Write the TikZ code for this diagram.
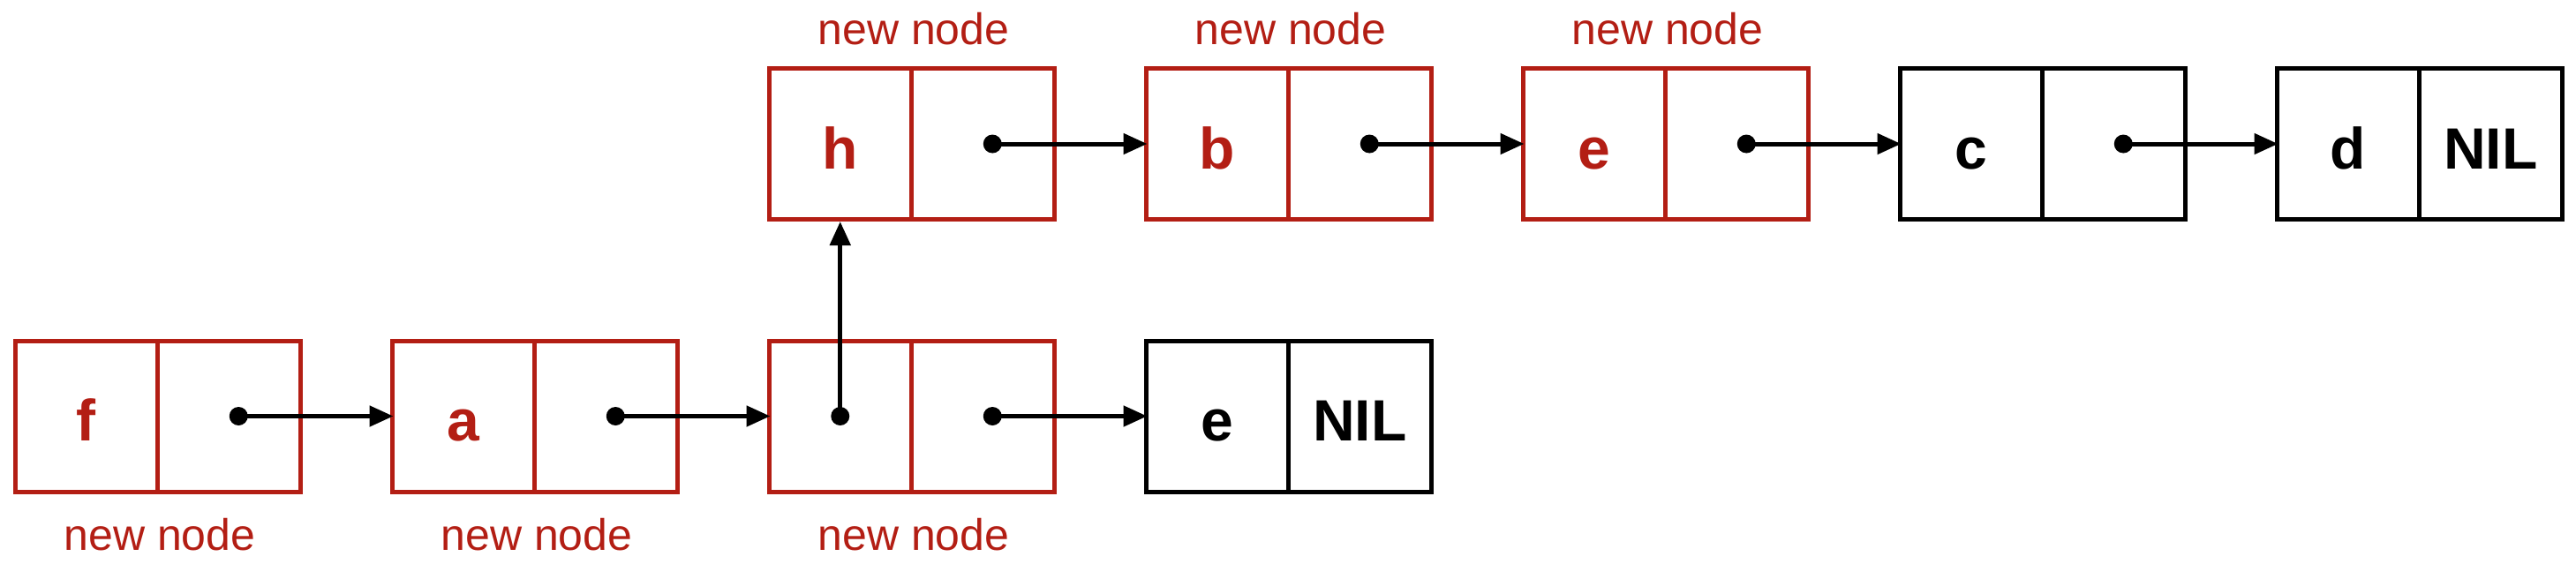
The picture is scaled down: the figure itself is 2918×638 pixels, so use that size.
\documentclass[tikz,border=0pt]{standalone}
\usepackage{fontspec}
\setmainfont{Liberation Sans}
\usetikzlibrary{arrows.meta,calc}
\definecolor{nred}{RGB}{179,30,20}
\begin{document}
\begin{tikzpicture}[x=1pt,y=-1pt,
 cell/.style={draw, line width=5pt, minimum width=161.5pt, minimum height=171pt, inner sep=0pt, text height=56pt, text depth=0pt, font=\fontsize{66}{70}\selectfont\bfseries},
 newc/.style={cell, draw=nred, text=nred},
 oldc/.style={cell, draw=black, text=black},
 dot/.style={circle, fill=black, minimum size=21pt, inner sep=0pt},
 ptr/.style={line width=5pt, -{Triangle[length=27pt,width=23pt]}},
 hptr/.style={ptr, shorten >=-4pt},
 lbl/.style={text=nred, font=\fontsize{50}{54}\selectfont, anchor=base, inner sep=0pt}]
\useasboundingbox (0,0) rectangle (2918,638);
% lower row
\node[newc] (f)  at (97.75,471.5) {f};
\node[newc] (fp) at (259.25,471.5) {};
\node[newc] (a)  at (524.75,471.5) {a};
\node[newc] (ap) at (686.25,471.5) {};
\node[newc] (g)  at (951.75,471.5) {};
\node[newc] (gp) at (1113.25,471.5) {};
\node[oldc] (e1)  at (1378.75,471.5) {e};
\node[oldc] (e1p) at (1540.25,471.5) {NIL};
% upper row
\node[newc] (h)  at (951.75,163) {h};
\node[newc] (hp) at (1113.25,163) {};
\node[newc] (b)  at (1378.75,163) {b};
\node[newc] (bp) at (1540.25,163) {};
\node[newc] (e)  at (1805.75,163) {e};
\node[newc] (ep) at (1967.25,163) {};
\node[oldc] (c)  at (2232.75,163) {c};
\node[oldc] (cp) at (2394.25,163) {};
\node[oldc] (d)  at (2659.75,163) {d};
\node[oldc] (dp) at (2821.25,163) {NIL};
% labels
\node[lbl] (lf) at ($(f.east)+(0,151.5)$) {new node};
\node[lbl] (la) at ($(a.east)+(0,151.5)$) {new node};
\node[lbl] (lg) at ($(g.east)+(0,151.5)$) {new node};
\node[lbl] (lh) at ($(h.east)+(0,-113)$) {new node};
\node[lbl] (lb) at ($(b.east)+(0,-113)$) {new node};
\node[lbl] (le) at ($(e.east)+(0,-113)$) {new node};
% dots
\node[dot] (fd) at ($(fp.center)+(11,0)$) {};
\node[dot] (ad) at ($(ap.center)+(11,0)$) {};
\node[dot] (gpd) at ($(gp.center)+(11,0)$) {};
\node[dot] (gd) at (g.center) {};
\node[dot] (hd) at ($(hp.center)+(11,0)$) {};
\node[dot] (bd) at ($(bp.center)+(11,0)$) {};
\node[dot] (ed) at ($(ep.center)+(11,0)$) {};
\node[dot] (cd) at ($(cp.center)+(11,0)$) {};
% pointers
\draw[hptr] (fd.center) -- (a.west);
\draw[hptr] (ad.center) -- (g.west);
\draw[hptr] (gpd.center) -- (e1.west);
\draw[ptr] (gd.center) -- (h.south);
\draw[hptr] (hd.center) -- (b.west);
\draw[hptr] (bd.center) -- (e.west);
\draw[hptr] (ed.center) -- (c.west);
\draw[hptr] (cd.center) -- (d.west);
\end{tikzpicture}
\end{document}
